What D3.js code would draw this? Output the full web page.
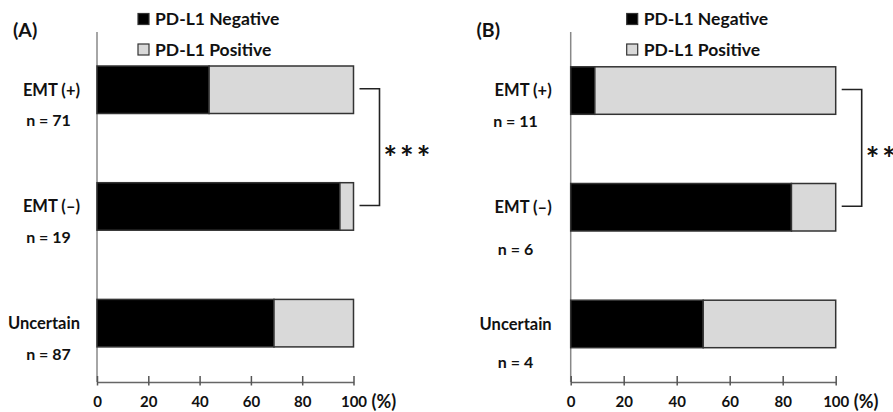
<!DOCTYPE html>
<html>
<head>
<meta charset="utf-8">
<script src="https://cdn.jsdelivr.net/npm/d3@7"></script>
<style>
  html, body { margin: 0; padding: 0; background: #fff; }
  svg { display: block; font-family: Lato, "Open Sans", sans-serif; font-weight: 700; }
</style>
</head>
<body>
<svg id="chart" width="893" height="412"></svg>
<script>
// ---- data ----
const categories = ["EMT (+)", "EMT (–)", "Uncertain"];
const seriesNames = ["PD-L1 Negative", "PD-L1 Positive"];
const tickValues = [0, 20, 40, 60, 80, 100];

const nA = [71, 19, 87];
const negativeA = [43.7, 94.7, 69.0];
const positiveA = [56.3, 5.3, 31.0];

const nB = [11, 6, 4];
const negativeB = [9.1, 83.3, 50.0];
const positiveB = [90.9, 16.7, 50.0];

const panelLabels = ["(A)", "(B)"];
const significance = ["***", "**"];

// ---- layout ----
const colors = { neg: "#000000", pos: "#d9d9d9" };
const panels = [
  { label: panelLabels[0], n: nA, neg: negativeA, pos: positiveA, sig: significance[0],
    x0: 97, x1: 353.5, bandTop: 66, legendX: 138, labelX: 13, nCenterX: 48.5, catRight: 80,
    nOffsets: [31, 31, 31] },
  { label: panelLabels[1], n: nB, neg: negativeB, pos: positiveB, sig: significance[1],
    x0: 570.7, x1: 835.7, bandTop: 66.8, legendX: 626.7, labelX: 476.5, nCenterX: 515.5, catRight: 551.7,
    nOffsets: [31, 42, 38] }
];

const svg = d3.select("#chart");
const axisY = 382;
const step = 116.7, bw = 47.5;

panels.forEach(p => {
  const g = svg.append("g");
  const x = d3.scaleLinear().domain([0, 100]).range([p.x0, p.x1]);
  const y = d3.scaleBand().domain(categories)
    .range([p.bandTop, p.bandTop + 2 * step + bw])
    .paddingInner(1 - bw / step).paddingOuter(0);

  // panel label
  g.append("text").attr("x", p.labelX).attr("y", 30).attr("dy", "0.35em")
    .attr("font-size", 19.5).attr("fill", "#111").text(p.label);

  // legend
  const leg = g.append("g");
  [[seriesNames[0], colors.neg, 19], [seriesNames[1], colors.pos, 49.5]].forEach(([name, c, cy]) => {
    leg.append("rect").attr("x", p.legendX).attr("y", cy - 5.5).attr("width", 11).attr("height", 11)
      .attr("fill", c).attr("stroke", "#333").attr("stroke-width", 1.2);
    leg.append("text").attr("x", p.legendX + 17).attr("y", cy).attr("dy", "0.35em")
      .attr("font-size", 17.5).attr("fill", "#111").text(name);
  });

  // vertical axis line
  g.append("line").attr("x1", x(0)).attr("x2", x(0)).attr("y1", 32).attr("y2", axisY)
    .attr("stroke", "#888").attr("stroke-width", 1.5);

  // bottom axis
  const ax = g.append("g").attr("transform", `translate(0,${axisY})`)
    .call(d3.axisBottom(x).tickValues(tickValues).tickSize(0).tickPadding(14).tickFormat(d3.format("d")));
  ax.select(".domain").attr("stroke", "#666").attr("stroke-width", 1.5);
  ax.selectAll(".tick line").attr("y1", -6).attr("y2", 3.5).attr("stroke", "#555").attr("stroke-width", 1.5);
  ax.selectAll(".tick text").attr("font-size", 15).attr("font-family", "Lato, sans-serif")
    .attr("font-weight", 700).attr("fill", "#111");
  g.append("text").attr("x", x(100) + 18).attr("y", axisY + 20).attr("dy", "0.35em")
    .attr("font-size", 18).attr("fill", "#111").text("(%)");

  // bars
  categories.forEach((cat, i) => {
    const yy = y(cat);
    g.append("rect").attr("x", x(0)).attr("y", yy).attr("width", x(p.neg[i]) - x(0)).attr("height", y.bandwidth())
      .attr("fill", colors.neg).attr("stroke", "#333").attr("stroke-width", 1.5);
    g.append("rect").attr("x", x(p.neg[i])).attr("y", yy).attr("width", x(p.neg[i] + p.pos[i]) - x(p.neg[i])).attr("height", y.bandwidth())
      .attr("fill", colors.pos).attr("stroke", "#333").attr("stroke-width", 1.5);

    const cy = yy + y.bandwidth() / 2;
    g.append("text").attr("x", p.catRight).attr("y", cy).attr("dy", "0.35em")
      .attr("text-anchor", "end").attr("font-size", 16.5).attr("fill", "#111").text(cat);
    g.append("text").attr("x", p.nCenterX).attr("y", cy + p.nOffsets[i]).attr("dy", "0.35em")
      .attr("text-anchor", "middle").attr("font-size", 16).attr("fill", "#111").text("n = " + p.n[i]);
  });

  // significance bracket between EMT(+) and EMT(–)
  const yTop = y(categories[0]) + y.bandwidth() / 2 - 1;
  const yBot = y(categories[1]) + y.bandwidth() / 2 - 1;
  const bx0 = x(100) + 6, bx1 = x(100) + 26;
  g.append("path").attr("d", `M${bx0},${yTop}H${bx1}V${yBot}H${bx0}`)
    .attr("fill", "none").attr("stroke", "#222").attr("stroke-width", 1.6);
  g.append("text").attr("x", bx1 + 4).attr("y", (yTop + yBot) / 2 + 12).attr("dy", "0.35em")
    .attr("font-size", 32).attr("letter-spacing", 3).attr("fill", "#111").text(p.sig);
});
</script>
</body>
</html>
